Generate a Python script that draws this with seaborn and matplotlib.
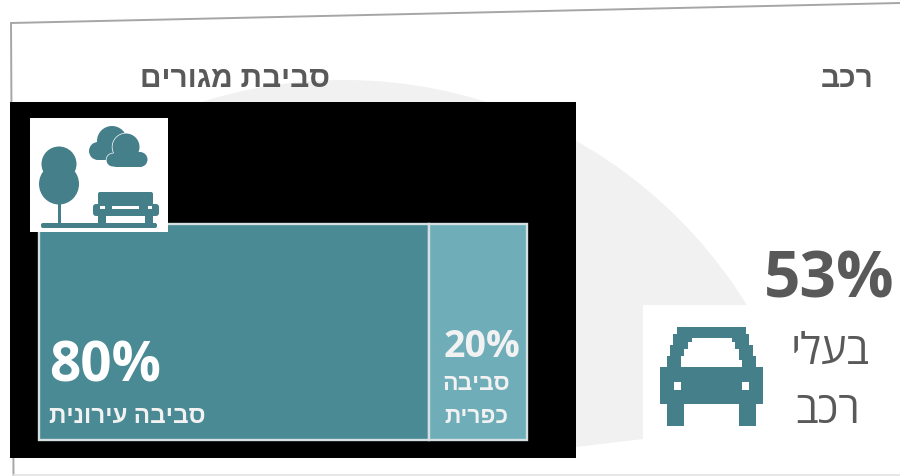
import matplotlib
matplotlib.use("Agg")
import matplotlib.pyplot as plt
import pandas as pd
import seaborn as sns
from matplotlib.patches import Circle, Ellipse, FancyBboxPatch, Polygon, Rectangle

# Values
environment_keys = ["urban", "rural"]
environment_shares = [80, 20]
environment_names = ["סביבה עירונית", "סביבה\nכפרית"]
car_owner_share = 53
title_environment = "סביבת מגורים"
title_car = "רכב"
car_owner_lines = ["בעלי", "רכב"]

TEAL = "#4a8a94"
TEAL_LIGHT = "#6fadb9"
ICON = "#447f8a"
INK = "#595959"
FONTS = ["Open Sans", "Liberation Sans", "DejaVu Sans"]

sns.set_theme(style="white")
plt.rcParams["font.family"] = FONTS

W, H = 900, 476
fig = plt.figure(figsize=(W / 100, H / 100), dpi=100, facecolor="white")


def rtl(text):
    """matplotlib lays text out left to right, so Hebrew goes in visual order."""
    return "\n".join(line[::-1] for line in text.split("\n"))


# Pixel-addressed backdrop layer
bg = fig.add_axes([0, 0, 1, 1], zorder=0)
bg.set_xlim(0, W)
bg.set_ylim(H, 0)
bg.axis("off")

bg.add_patch(Circle((344, 553), 473, fc="#f1f1f1", ec="none", zorder=1))
# White masks trim the disc to its visible wedge
bg.add_patch(Polygon([(0, 476), (0, 447), (576, 447), (643, 439), (900, 439), (900, 476)],
                     closed=True, fc="white", ec="none", zorder=2))
bg.add_patch(Rectangle((0, 0), 10, H, fc="white", ec="none", zorder=2))
bg.add_patch(Rectangle((643, 305), W - 643, 135, fc="white", ec="none", zorder=2))
bg.plot([11, 13.5], [23, 476], color="#a6a6a6", lw=1.4, zorder=3)
bg.plot([11, 900], [23, 3], color="#a6a6a6", lw=1.4, zorder=3)
bg.plot([13, 900], [475, 475], color="#e3e3e3", lw=1.2, zorder=3)
bg.add_patch(Rectangle((10, 102), 566, 356, fc="black", ec="none", zorder=4))

# Stacked bar of the two residential environments; histplot stacks the last hue first
ax = fig.add_axes([39 / W, 1 - 440 / H, 488 / W, 216 / H], zorder=1)
ax.patch.set_alpha(0)
frame = pd.DataFrame(
    {"row": ["all", "all"], "kind": environment_keys, "share": environment_shares}
)
sns.histplot(
    data=frame, y="row", hue="kind", hue_order=environment_keys[::-1], weights="share",
    multiple="stack", discrete=True, shrink=1, alpha=1, legend=False, ax=ax,
    palette={"urban": TEAL, "rural": TEAL_LIGHT}, edgecolor="#d5e0e2", linewidth=1.7,
    clip_on=False,
)
ax.set_xlim(0, 100)
ax.set_ylim(-0.5, 0.5)
ax.set_xlabel("")
ax.set_ylabel("")
ax.set_xticks([])
ax.set_yticks([])
for spine in ax.spines.values():
    spine.set_visible(False)

# Icon and text layer
top = fig.add_axes([0, 0, 1, 1], zorder=2)
top.set_xlim(0, W)
top.set_ylim(H, 0)
top.axis("off")
top.patch.set_alpha(0)

top.add_patch(Rectangle((30, 118), 138, 114, fc="white", ec="none"))

# Tree
top.add_patch(Circle((59, 164), 17.5, fc=ICON, ec="none"))
top.add_patch(Ellipse((59, 184), 40, 41, fc=ICON, ec="none"))
top.add_patch(Rectangle((58, 200), 3, 25, fc=ICON, ec="none"))
top.add_patch(FancyBboxPatch((41, 223), 116, 5, boxstyle="round,pad=0,rounding_size=2", fc=ICON, ec="none"))
# Bench
top.add_patch(FancyBboxPatch((98, 192), 55, 13, boxstyle="round,pad=0,rounding_size=2", fc=ICON, ec="none"))
top.add_patch(FancyBboxPatch((93, 204), 66, 12, boxstyle="round,pad=0,rounding_size=3", fc=ICON, ec="none"))
top.add_patch(Rectangle((98, 214), 8, 10, fc=ICON, ec="none"))
top.add_patch(Rectangle((145, 214), 8, 10, fc=ICON, ec="none"))
for x0, x1 in [(100, 105), (112, 139), (148, 152)]:
    top.add_patch(Rectangle((x0, 205.5), x1 - x0, 3.5, fc="white", ec="none"))
# Clouds: back one first, then a thin white halo and the front one
for cx, cy, r in [(112, 141, 15), (98, 151, 9), (118, 150, 9)]:
    top.add_patch(Circle((cx, cy), r, fc=ICON, ec="none"))
top.add_patch(Rectangle((98, 148), 20, 12, fc=ICON, ec="none"))
for cx, cy, r, col in [(126, 147, 14.2, "white"), (113, 160, 7.2, "white"),
                       (126, 147, 13.5, ICON), (113, 160, 6.5, ICON), (140, 159.5, 7.5, ICON)]:
    top.add_patch(Circle((cx, cy), r, fc=col, ec="none"))
top.add_patch(FancyBboxPatch((113, 152), 28, 15, boxstyle="round,pad=0,rounding_size=3", fc=ICON, ec="none"))

# Car
car_outer = [(660, 367), (667, 367), (667, 356), (670, 356), (670, 345), (673, 345), (673, 334),
             (677, 334), (677, 327), (746, 327), (746, 334), (749, 334), (749, 345), (753, 345),
             (753, 356), (756, 356), (756, 367), (763, 367), (763, 404), (756, 404), (756, 426),
             (739, 426), (739, 404), (684, 404), (684, 426), (667, 426), (667, 404), (660, 404)]
car_window = [(681, 367), (681, 356), (684, 356), (684, 349), (688, 349), (688, 342), (692, 342),
              (692, 338), (732, 338), (732, 342), (735, 342), (735, 349), (739, 349), (739, 360),
              (742, 360), (742, 367)]
top.add_patch(Polygon(car_outer, closed=True, fc=ICON, ec="none"))
top.add_patch(Polygon(car_window, closed=True, fc="white", ec="none"))
top.add_patch(Rectangle((674, 382), 7, 8, fc="white", ec="none"))
top.add_patch(Rectangle((742, 382), 7, 8, fc="white", ec="none"))

# Text
def label(x, y, text, size, color, weight="normal"):
    top.text(x, y, text, fontsize=size, color=color, fontweight=weight, ha="center",
             va="center", family=FONTS)


label(235, 79, rtl(title_environment), 21.5, INK, "bold")
label(847, 79, rtl(title_car), 21.5, INK, "bold")
label(829, 281, f"{car_owner_share}%", 46, INK, "bold")
label(830, 353, rtl(car_owner_lines[0]), 31, INK)
label(828, 412, rtl(car_owner_lines[1]), 31, INK)
label(105, 367, f"{environment_shares[0]}%", 39.5, "white", "bold")
label(127, 417, rtl(environment_names[0]), 17.5, "#f2f2f2", "bold")
label(482, 347, f"{environment_shares[1]}%", 27, "#f2f2f2", "bold")
rural_lines = environment_names[1].split("\n")
label(476, 384, rtl(rural_lines[0]), 16.5, "#f2f2f2", "bold")
label(476, 417, rtl(rural_lines[1]), 16.5, "#f2f2f2", "bold")

fig.savefig("out.png", dpi=100, facecolor="white")
